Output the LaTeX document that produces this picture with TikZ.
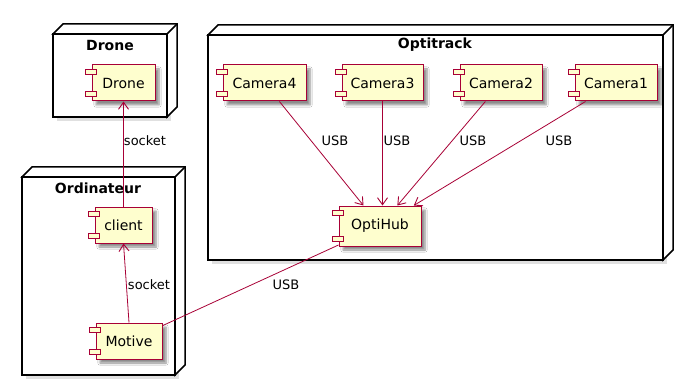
\documentclass[tikz,border=0pt]{standalone}
\usepackage{fontspec}
\setmainfont{DejaVu Sans}
\usetikzlibrary{calc,arrows.meta,shadows.blur}
\definecolor{compfill}{HTML}{FEFECE}
\definecolor{compline}{HTML}{A80036}
\tikzset{
  comp/.style={draw=compline, fill=compfill, line width=1pt, inner sep=0pt,
    minimum height=36pt, font=\fontsize{14}{16}\selectfont,
    blur shadow={shadow xshift=4pt, shadow yshift=-4pt, shadow blur steps=6, shadow opacity=45}},
  tab/.style={draw=compline, fill=compfill, line width=1pt},
  link/.style={draw=compline, line width=0.8pt},
  arr/.style={link, -{Straight Barb[length=7pt,width=10pt,line width=0.9pt]}},
  lbl/.style={font=\fontsize{13}{15}\selectfont, inner sep=0pt},
  title/.style={font=\bfseries\fontsize{14}{16}\selectfont, inner sep=0pt},
  frame/.style={draw=black, fill=white, line width=1.5pt, line join=miter}
}
% 3D deployment node: front face (#1,#2)-(#3,#4), depth 10
\newcommand\nodebox[4]{%
  \fill[black, opacity=0.12] (#1+4,#2+4) rectangle (#3+4,#4+4);
  \draw[frame] (#1,#2) rectangle (#3,#4);
  \draw[frame] (#1,#2) -- (#1+10,#2-10) -- (#3+10,#2-10) -- (#3+10,#4-10) -- (#3,#4) -- (#3,#2) -- cycle;
  \draw[frame] (#3,#2) -- (#3+10,#2-10);
}
% component icon: two small tabs on the left border
\newcommand\comptabs[1]{%
  \draw[tab] ($(#1.north west)+(-6,5)$) rectangle ($(#1.north west)+(5,10)$);
  \draw[tab] ($(#1.south west)+(-6,-5)$) rectangle ($(#1.south west)+(5,-10)$);
}
\begin{document}
\begin{tikzpicture}[x=1pt,y=-1pt]
\useasboundingbox (0,0) rectangle (684,387);
\fill[white] (0,0) rectangle (684,387);

% deployment nodes
\nodebox{53}{34}{167}{117}
\node[title] (tDrone) at (110,45) {Drone};
\nodebox{22}{177}{175}{375}
\node[title] (tOrdi) at (98,188) {Ordinateur};
\nodebox{208}{35}{663}{260}
\node[title] (tOpti) at (435,45) {Optitrack};

% components
\node[comp, minimum width=63pt] (Drone) at (123.5,83) {Drone};
\node[comp, minimum width=57pt] (client) at (123.5,225) {client};
\node[comp, minimum width=66pt] (Motive) at (129,341) {Motive};
\node[comp, minimum width=83pt] (Camera4) at (264.5,83) {Camera4};
\node[comp, minimum width=81pt] (Camera3) at (382.5,83) {Camera3};
\node[comp, minimum width=82pt] (Camera2) at (501,83) {Camera2};
\node[comp, minimum width=82pt] (Camera1) at (616,83) {Camera1};
\node[comp, minimum width=82pt, minimum height=40pt] (OptiHub) at (380,226) {OptiHub};
\foreach \n in {Drone,client,Motive,Camera4,Camera3,Camera2,Camera1,OptiHub} {\comptabs{\n}}

% connectors
\draw[arr] (client) -- (Drone);
\draw[arr] (Motive.north) -- (client.south);
\draw[arr] (Camera4) -- (OptiHub);
\draw[arr] (Camera3.south) -- (Camera3.south |- OptiHub.north);
\draw[arr] (Camera2) -- (OptiHub);
\draw[arr] (Camera1) -- (OptiHub);
\draw[link] (OptiHub) -- (Motive);

% connector labels
\node[lbl] (l1) at (145,141) {socket};
\node[lbl] (l2) at (149,285) {socket};
\node[lbl] (l3) at (335,141) {USB};
\node[lbl] (l4) at (397,141) {USB};
\node[lbl] (l5) at (473,141) {USB};
\node[lbl] (l6) at (559,141) {USB};
\node[lbl] (l7) at (286,285) {USB};
\end{tikzpicture}
\end{document}
